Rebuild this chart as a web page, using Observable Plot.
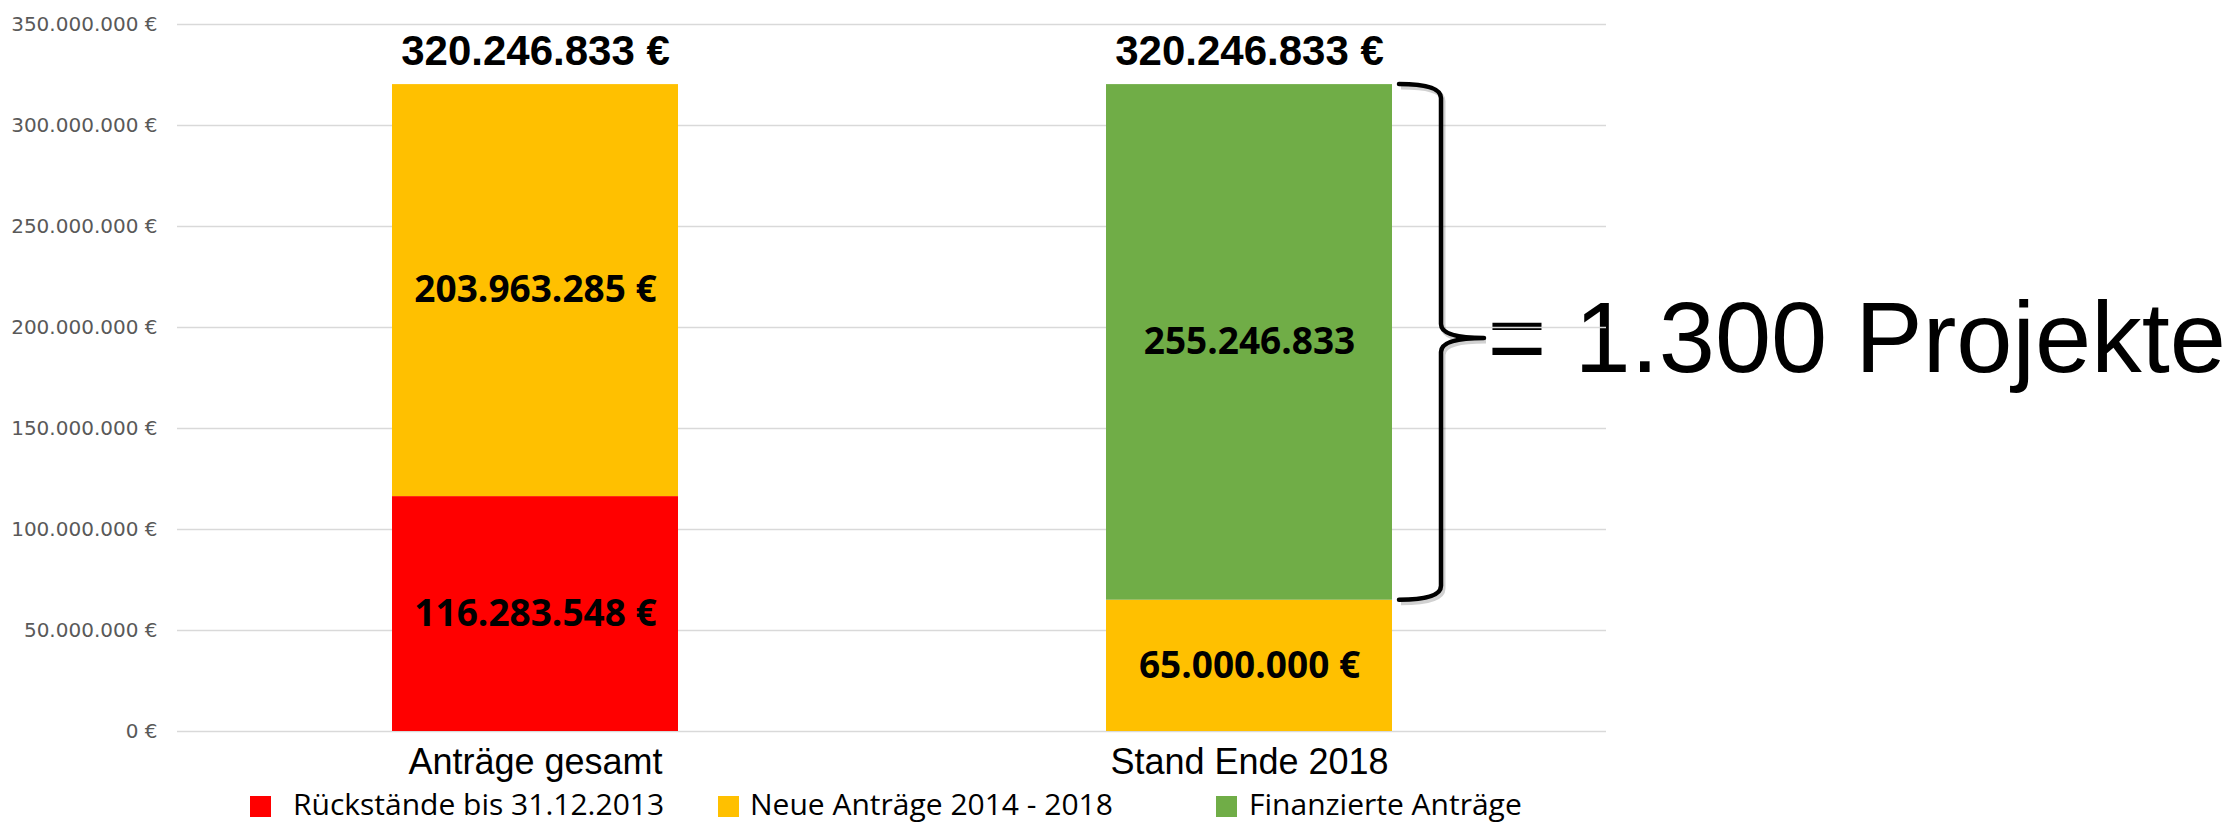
<!DOCTYPE html>
<html>
<head>
<meta charset="utf-8">
<script src="https://cdn.jsdelivr.net/npm/d3@7"></script>
<script src="https://cdn.jsdelivr.net/npm/@observablehq/plot@0.6"></script>
<style>
  body { margin: 0; background: #fff; }
  #chart { position: relative; width: 2233px; }
  #chart svg { display: block; }
</style>
</head>
<body>
<div id="chart"></div>
<script>
// ---- data ----
const categories = ["Anträge gesamt", "Stand Ende 2018"];
const seriesNames = ["Rückstände bis 31.12.2013", "Neue Anträge 2014 - 2018", "Finanzierte Anträge"];
const seriesColors = ["#ff0000", "#ffc000", "#70ad47"];
// stacked segments, bottom to top within each category
const segCategory = ["Anträge gesamt", "Anträge gesamt", "Stand Ende 2018", "Stand Ende 2018"];
const segSeries = ["Rückstände bis 31.12.2013", "Neue Anträge 2014 - 2018", "Neue Anträge 2014 - 2018", "Finanzierte Anträge"];
const segValues = [116283548, 203963285, 65000000, 255246833];
const segEuro = [true, true, true, false];
const yTicks = [0, 50000000, 100000000, 150000000, 200000000, 250000000, 300000000, 350000000];
const annotationText = "= 1.300 Projekte";

// ---- formatting ----
const de = d3.formatLocale({decimal: ",", thousands: ".", grouping: [3], currency: ["", " €"]});
const fmt = de.format(",d");

const data = segValues.map((v, i) => ({cat: segCategory[i], series: segSeries[i], value: v, euro: segEuro[i]}));

const W = 2233, H = 784;
const braceCat = categories[1];
const braceLow = segValues[2];
const braceHigh = segValues[2] + segValues[3];

function brace(index, scales, values, dimensions, context) {
  const x = scales.x, y = scales.y;
  let bw = 0;
  if (x && typeof x.bandwidth === "function") bw = x.bandwidth();
  else if (scales.scales && scales.scales.x) bw = scales.scales.x.bandwidth || 0;
  const edge = x(braceCat) + bw;
  const top = y(braceHigh), bottom = y(braceLow), mid = (top + bottom) / 2 - 4;
  const x0 = edge + 7, xm = edge + 49, xt = edge + 92, r = 14;
  const d = `M${x0},${top} Q${xm},${top} ${xm},${top + r} L${xm},${mid - r} Q${xm},${mid} ${xt},${mid}` +
            ` M${xt},${mid} Q${xm},${mid} ${xm},${mid + r} L${xm},${bottom - r} Q${xm},${bottom} ${x0},${bottom}`;
  const g = document.createElementNS("http://www.w3.org/2000/svg", "g");
  const sh = document.createElementNS("http://www.w3.org/2000/svg", "path");
  sh.setAttribute("d", d);
  sh.setAttribute("transform", "translate(2,3)");
  sh.setAttribute("fill", "none");
  sh.setAttribute("stroke", "rgba(0,0,0,0.18)");
  sh.setAttribute("stroke-width", "5");
  const p = document.createElementNS("http://www.w3.org/2000/svg", "path");
  p.setAttribute("d", d);
  p.setAttribute("fill", "none");
  p.setAttribute("stroke", "#000");
  p.setAttribute("stroke-width", "4.5");
  p.setAttribute("stroke-linecap", "round");
  p.setAttribute("stroke-linejoin", "round");
  g.appendChild(sh);
  g.appendChild(p);
  return g;
}

const plot = Plot.plot({
  width: W,
  height: H,
  marginTop: 24,
  marginBottom: 53,
  marginLeft: 177,
  marginRight: 627,
  style: {background: "white", overflow: "visible"},
  x: {domain: categories, paddingInner: 0.6, paddingOuter: 0.3, label: null},
  y: {domain: [0, 350000000], label: null},
  color: {domain: seriesNames, range: seriesColors},
  marks: [
    Plot.text([annotationText], {
      x: [braceCat],
      y: [(braceLow + braceHigh) / 2],
      text: d => d,
      dx: 238,
      dy: -3,
      textAnchor: "start",
      lineAnchor: "middle",
      fontSize: 101,
      fontFamily: "Liberation Sans, Arial, sans-serif",
      fill: "black"
    }),
    Plot.gridY(yTicks, {stroke: "#d9d9d9", strokeOpacity: 1, strokeWidth: 1.5}),
    Plot.axisY(yTicks, {
      tickSize: 0,
      tickPadding: 20,
      tickFormat: d => fmt(d) + " €",
      fontSize: 20,
      fontFamily: "DejaVu Sans, sans-serif",
      color: "#595959",
      label: null
    }),
    Plot.axisX({
      tickSize: 0,
      tickPadding: 17,
      fontSize: 36,
      fontFamily: "Liberation Sans, Arial, sans-serif",
      color: "black",
      label: null
    }),
    Plot.barY(data, {x: "cat", y: "value", fill: "series"}),
    Plot.text(data, Plot.stackY({
      x: "cat",
      y: "value",
      text: d => fmt(d.value) + (d.euro ? " €" : ""),
      fontSize: 37,
      fontWeight: "bold",
      fontFamily: "Open Sans, sans-serif",
      fill: "black",
      lineAnchor: "middle",
      ariaLabel: "seglabels"
    })),
    Plot.text(data, Plot.groupX(
      {y: "sum", text: v => fmt(d3.sum(v)) + " €"},
      {
        x: "cat",
        y: "value",
        text: "value",
        dy: -33,
        lineAnchor: "middle",
        fontSize: 42,
        fontWeight: "bold",
        fontFamily: "Liberation Sans, Arial, sans-serif",
        fill: "black"
      }
    )),
    brace
  ]
});

// grey euro sign on the 65.000.000 € label
d3.select(plot).selectAll('g[aria-label="seglabels"] text').each(function () {
  const target = fmt(segValues[2]) + " €";
  if (this.textContent === target) {
    const t = d3.select(this);
    t.text(fmt(segValues[2]) + " ");
    t.append("tspan").attr("fill", "#404040").text("€");
  }
});

const chart = document.getElementById("chart");
chart.appendChild(plot);

// ---- legend (below the plot) ----
const legendX = [250, 718, 1216];
const legendTextX = [293, 750, 1249];
const legend = d3.create("svg").attr("width", W).attr("height", 45);
seriesNames.forEach((name, i) => {
  legend.append("rect")
    .attr("x", legendX[i]).attr("y", 12)
    .attr("width", 21).attr("height", 21)
    .attr("fill", seriesColors[i]);
  legend.append("text")
    .attr("x", legendTextX[i]).attr("y", 31)
    .attr("font-family", "Open Sans, sans-serif")
    .attr("font-size", 30)
    .attr("fill", "black")
    .text(name);
});
chart.appendChild(legend.node());
</script>
</body>
</html>
